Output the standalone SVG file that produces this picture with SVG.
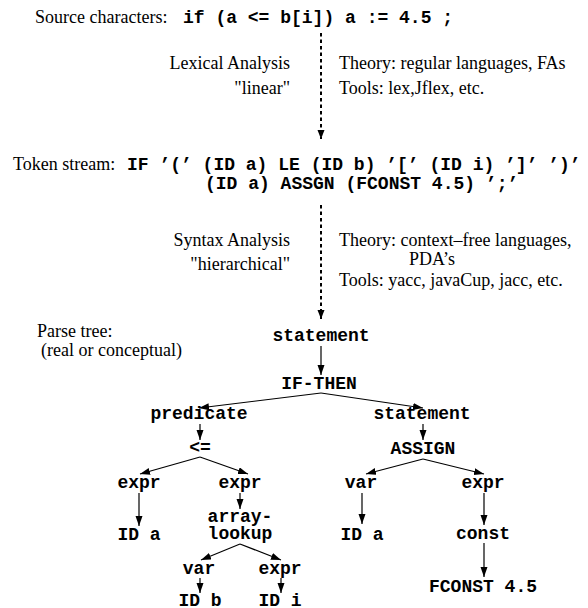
<svg xmlns="http://www.w3.org/2000/svg" width="588" height="608" viewBox="0 0 588 608">
<style>
  .serif { font-family: "Liberation Serif", "Times New Roman", serif; font-size: 18px; fill: #000; }
  .mono { font-family: "Liberation Mono", "Courier New", monospace; font-size: 18px; font-weight: bold; fill: #000; }
  .node text { text-anchor: middle; }
  .end { text-anchor: end; }
  .edge { stroke: #000; stroke-width: 1.2; fill: none; marker-end: url(#ah); }
  .dash { stroke: #000; stroke-width: 2; stroke-dasharray: 3.5 3; fill: none; marker-end: url(#ah2); }
</style>
<defs>
  <marker id="ah" markerUnits="userSpaceOnUse" markerWidth="11" markerHeight="8" refX="10" refY="3.5" orient="auto">
    <path d="M0,0 L10,3.5 L0,7 z" fill="#000"/>
  </marker>
  <marker id="ah2" markerUnits="userSpaceOnUse" markerWidth="10" markerHeight="8" refX="9" refY="3.5" orient="auto">
    <path d="M0,0 L9,3.5 L0,7 z" fill="#000"/>
  </marker>
</defs>
<rect width="588" height="608" fill="#fff"/>

<g id="source">
  <text class="serif" x="35" y="23">Source characters:</text>
  <text class="mono" x="183" y="23">if (a &lt;= b[i]) a := 4.5 ;</text>
</g>

<g id="lexical">
  <text class="serif end" x="290" y="69">Lexical Analysis</text>
  <text class="serif end" x="290" y="94">"linear"</text>
  <text class="serif" x="339" y="69">Theory: regular languages, FAs</text>
  <text class="serif" x="339" y="94">Tools: lex,Jflex, etc.</text>
</g>

<g id="tokens">
  <text class="serif" x="13" y="170">Token stream:</text>
  <text class="mono" x="127" y="170">IF ’(’ (ID a) LE (ID b) ’[’ (ID i) ’]’ ’)’</text>
  <text class="mono" x="205" y="189">(ID a) ASSGN (FCONST 4.5) ’;’</text>
</g>

<g id="syntax">
  <text class="serif end" x="290" y="246">Syntax Analysis</text>
  <text class="serif end" x="290" y="270">"hierarchical"</text>
  <text class="serif" x="339" y="246">Theory: context–free languages,</text>
  <text class="serif" x="409" y="265">PDA’s</text>
  <text class="serif" x="339" y="286">Tools: yacc, javaCup, jacc, etc.</text>
</g>

<g id="parse-label">
  <text class="serif" x="37" y="337">Parse tree:</text>
  <text class="serif" x="41" y="356">(real or conceptual)</text>
</g>

<g id="connectors">
  <line class="dash" x1="321" y1="33" x2="321" y2="139"/>
  <line class="dash" x1="321" y1="205" x2="321" y2="319"/>
  <line class="edge" x1="321" y1="346" x2="321" y2="375"/>
  <line class="edge" x1="321" y1="393" x2="199" y2="408"/>
  <line class="edge" x1="321" y1="393" x2="423" y2="408"/>
  <line class="edge" x1="200" y1="424" x2="200" y2="440"/>
  <line class="edge" x1="423" y1="424" x2="423" y2="440"/>
  <line class="edge" x1="200" y1="457" x2="140" y2="474"/>
  <line class="edge" x1="200" y1="457" x2="248" y2="474"/>
  <line class="edge" x1="423" y1="459" x2="366" y2="474"/>
  <line class="edge" x1="423" y1="459" x2="484" y2="474"/>
  <line class="edge" x1="139" y1="493" x2="139" y2="526"/>
  <line class="edge" x1="240" y1="493" x2="240" y2="509"/>
  <line class="edge" x1="362" y1="493" x2="362" y2="524"/>
  <line class="edge" x1="484" y1="493" x2="484" y2="525"/>
  <line class="edge" x1="240" y1="544" x2="201" y2="560"/>
  <line class="edge" x1="240" y1="544" x2="281" y2="560"/>
  <line class="edge" x1="200" y1="578" x2="200" y2="593"/>
  <line class="edge" x1="281" y1="578" x2="281" y2="593"/>
  <line class="edge" x1="484" y1="543" x2="484" y2="577"/>
</g>

<g id="n-statement" class="node"><text class="mono" x="321" y="341">statement</text></g>
<g id="n-ifthen" class="node"><text class="mono" x="319" y="389">IF-THEN</text></g>
<g id="n-predicate" class="node"><text class="mono" x="199" y="419">predicate</text></g>
<g id="n-statement2" class="node"><text class="mono" x="422" y="419">statement</text></g>
<g id="n-le" class="node"><text class="mono" x="200" y="453">&lt;=</text></g>
<g id="n-assign" class="node"><text class="mono" x="423" y="454">ASSIGN</text></g>
<g id="n-expr1" class="node"><text class="mono" x="139" y="488">expr</text></g>
<g id="n-expr2" class="node"><text class="mono" x="240" y="488">expr</text></g>
<g id="n-var1" class="node"><text class="mono" x="361" y="488">var</text></g>
<g id="n-expr3" class="node"><text class="mono" x="483" y="488">expr</text></g>
<g id="n-ida1" class="node"><text class="mono" x="139" y="540">ID a</text></g>
<g id="n-arraylookup" class="node"><text class="mono" x="240" y="522">array-</text><text class="mono" x="240" y="539">lookup</text></g>
<g id="n-ida2" class="node"><text class="mono" x="362" y="540">ID a</text></g>
<g id="n-const" class="node"><text class="mono" x="483" y="539">const</text></g>
<g id="n-var2" class="node"><text class="mono" x="199" y="574">var</text></g>
<g id="n-expr4" class="node"><text class="mono" x="280" y="574">expr</text></g>
<g id="n-idb" class="node"><text class="mono" x="200" y="606">ID b</text></g>
<g id="n-idi" class="node"><text class="mono" x="280" y="606">ID i</text></g>
<g id="n-fconst" class="node"><text class="mono" x="483" y="592">FCONST 4.5</text></g>
</svg>
